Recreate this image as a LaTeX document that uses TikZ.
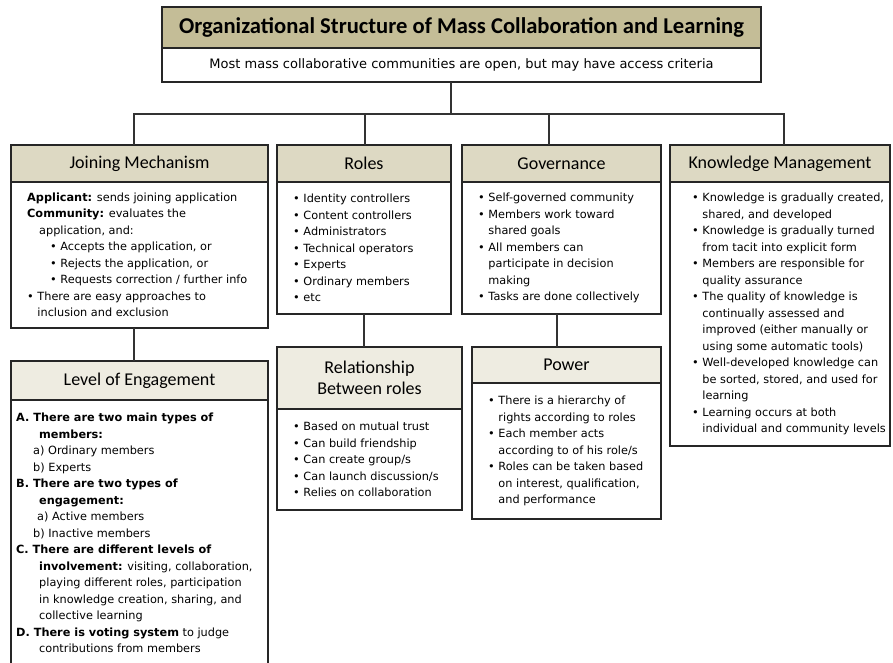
\documentclass[tikz,border=0pt]{standalone}
\usepackage{fontspec}
\setmainfont{DejaVu Sans}
\newfontfamily\carlitofont{Carlito}
\usetikzlibrary{positioning}
\definecolor{titletan}{HTML}{C4BD97}
\definecolor{headtan}{HTML}{DDD9C3}
\definecolor{subtan}{HTML}{EEECE1}
\def\bitem{\textbullet\ }
\def\bcont{\hphantom{\textbullet\ }}
\tikzset{
	box/.style={draw=black!85, line width=1.1pt, rectangle, inner sep=0pt, outer sep=0pt},
	headbox/.style={box, fill=headtan, align=center, font=\carlitofont\fontsize{18}{21}\selectfont},
	subhead/.style={headbox, fill=subtan},
	bodybox/.style={box, fill=white},
	bodytext/.style={inner sep=0pt, align=left, font=\fontsize{11.3}{16.5}\selectfont},
	wire/.style={draw=black!80, line width=1.1pt}
}
\begin{document}
\begin{tikzpicture}[x=1pt, y=-1pt]
			%%%%% START %%%%%
			\useasboundingbox (0,0) rectangle (893,663);
			\clip (0,0) rectangle (893,663);
			
			% title
			\node[box, fill=titletan, anchor=north west, minimum width=599pt, minimum height=41pt, font=\carlitofont\bfseries\fontsize{22.6}{26}\selectfont] (titlehead) at (162,7) {Organizational Structure of Mass Collaboration and Learning};
			\node[bodybox, below=0pt of titlehead, minimum width=599pt, minimum height=34pt, font=\fontsize{13}{16}\selectfont] (titlesub) {Most mass collaborative communities are open, but may have access criteria};
			
			% first row
			\node[headbox, anchor=north west, minimum width=257pt, minimum height=37pt] (joinhead) at (11,145) {Joining Mechanism};
			\node[bodybox, below=0pt of joinhead, minimum width=257pt, minimum height=146pt] (joinbody) {};
			\node[bodytext, right=16pt of joinbody.west] (jointext) {\textbf{Applicant:} sends joining application\\
				\textbf{Community:} evaluates the\\
				\hspace*{12pt}application, and:\\
				\hspace*{23pt}\bitem Accepts the application, or\\
				\hspace*{23pt}\bitem Rejects the application, or\\
				\hspace*{23pt}\bitem Requests correction / further info\\
				\bitem There are easy approaches to\\
				\bcont inclusion and exclusion};
			
			\node[headbox, anchor=north west, minimum width=174pt, minimum height=37pt] (rolehead) at (277,145) {Roles};
			\node[bodybox, below=0pt of rolehead, minimum width=174pt, minimum height=132pt] (rolebody) {};
			\node[bodytext, right=16pt of rolebody.west] (roletext) {\bitem Identity controllers\\
				\bitem Content controllers\\
				\bitem Administrators\\
				\bitem Technical operators\\
				\bitem Experts\\
				\bitem Ordinary members\\
				\bitem etc};
			
			\node[headbox, anchor=north west, minimum width=199pt, minimum height=37pt] (govhead) at (462,145) {Governance};
			\node[bodybox, below=0pt of govhead, minimum width=199pt, minimum height=132pt] (govbody) {};
			\node[bodytext, right=16pt of govbody.west] (govtext) {\bitem Self-governed community\\
				\bitem Members work toward\\
				\bcont shared goals\\
				\bitem All members can\\
				\bcont participate in decision\\
				\bcont making\\
				\bitem Tasks are done collectively};
			
			\node[headbox, anchor=north west, minimum width=220pt, minimum height=37pt] (knowhead) at (670,145) {Knowledge Management};
			\node[bodybox, below=0pt of knowhead, minimum width=220pt, minimum height=264pt] (knowbody) {};
			\node[bodytext, right=22pt of knowbody.west] (knowtext) {\bitem Knowledge is gradually created,\\
				\bcont shared, and developed\\
				\bitem Knowledge is gradually turned\\
				\bcont from tacit into explicit form\\
				\bitem Members are responsible for\\
				\bcont quality assurance\\
				\bitem The quality of knowledge is\\
				\bcont continually assessed and\\
				\bcont improved (either manually or\\
				\bcont using some automatic tools)\\
				\bitem Well-developed knowledge can\\
				\bcont be sorted, stored, and used for\\
				\bcont learning\\
				\bitem Learning occurs at both\\
				\bcont individual and community levels};
			
			% second row
			\node[subhead, anchor=north west, minimum width=185pt, minimum height=62pt] (relhead) at (277,347) {Relationship\\Between roles};
			\node[bodybox, below=0pt of relhead, minimum width=185pt, minimum height=101pt] (relbody) {};
			\node[bodytext, right=16pt of relbody.west] (reltext) {\bitem Based on mutual trust\\
				\bitem Can build friendship\\
				\bitem Can create group/s\\
				\bitem Can launch discussion/s\\
				\bitem Relies on collaboration};
			
			\node[subhead, anchor=north west, minimum width=189pt, minimum height=36pt] (powhead) at (472,347) {Power};
			\node[bodybox, below=0pt of powhead, minimum width=189pt, minimum height=136pt] (powbody) {};
			\node[bodytext, right=16pt of powbody.west] (powtext) {\bitem There is a hierarchy of\\
				\bcont rights according to roles\\
				\bitem Each member acts\\
				\bcont according to of his role/s\\
				\bitem Roles can be taken based\\
				\bcont on interest, qualification,\\
				\bcont and performance};
			
			\node[subhead, anchor=north west, minimum width=257pt, minimum height=39pt] (levelhead) at (11,361) {Level of Engagement};
			\node[bodybox, below=0pt of levelhead, minimum width=257pt, minimum height=266pt] (levelbody) {};
			\node[bodytext, right=5pt of levelbody.west] (leveltext) {\textbf{A. There are two main types of}\\
				\hspace*{23pt}\textbf{members:}\\
				\hspace*{17pt}a) Ordinary members\\
				\hspace*{17pt}b) Experts\\
				\textbf{B. There are two types of}\\
				\hspace*{23pt}\textbf{engagement:}\\
				\hspace*{21pt}a) Active members\\
				\hspace*{17pt}b) Inactive members\\
				\textbf{C. There are different levels of}\\
				\hspace*{23pt}\textbf{involvement:} visiting, collaboration,\\
				\hspace*{23pt}playing different roles, participation\\
				\hspace*{23pt}in knowledge creation, sharing, and\\
				\hspace*{23pt}collective learning\\
				\textbf{D. There is voting system} to judge\\
				\hspace*{23pt}contributions from members};
			
			% connectors
			\coordinate (hub) at (451,114);
			\coordinate (busj) at (134,114);
			\coordinate (busr) at (365,114);
			\coordinate (busg) at (549,114);
			\coordinate (busk) at (784,114);
			\coordinate (dropg) at (557,330);
			
			\draw[wire] (titlesub.south -| hub) -- (hub);
			\draw[wire] (joinhead.north -| busj) -- (busj) -- (busk) -- (knowhead.north -| busk);
			\draw[wire] (busr) -- (rolehead.north -| busr);
			\draw[wire] (busg) -- (govhead.north -| busg);
			\draw[wire] (joinbody.south -| busj) -- (levelhead.north -| busj);
			\draw[wire] (rolebody.south) -- (relhead.north -| rolebody.south);
			\draw[wire] (govbody.south -| dropg) -- (powhead.north -| dropg);
			
			%%%%% END %%%%%
\end{tikzpicture}
\end{document}
